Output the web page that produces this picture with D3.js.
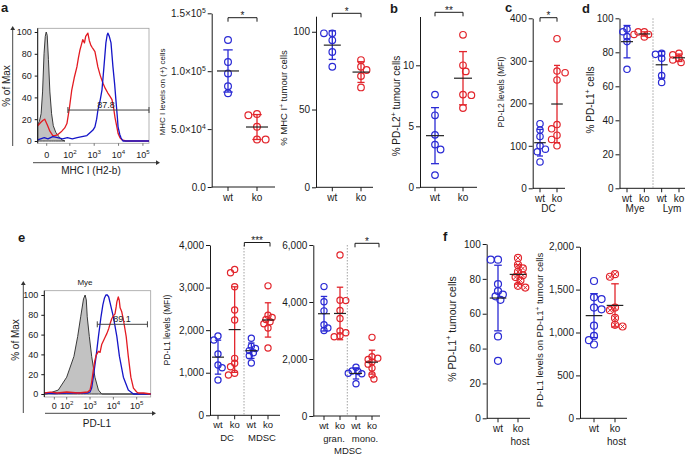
<!DOCTYPE html>
<html><head><meta charset="utf-8">
<script src="https://cdn.jsdelivr.net/npm/d3@7"></script>
<style>
body{margin:0;background:#fff;}
svg{font-family:"Liberation Sans",Arial,Helvetica,sans-serif;}
</style></head><body>
<svg id="chart" width="685" height="456"></svg>
<script>
// ================= DATA =================
// histogram x values are positions in decades of the biexponential display; y = % of Max
const histYTicks = [0, 20, 40, 60, 80, 100];
const aHistXTicks = [1.05, 2, 3, 4, 5];
const aHistXLabels = ["0", "10{2}", "10{3}", "10{4}", "10{5}"];
const aHistIsotype = [[0.68,15],[0.75,18],[0.82,25],[0.88,45],[0.94,80],[0.99,96],[1.03,100],[1.07,97],[1.12,75],[1.18,45],[1.25,25],[1.32,14],[1.42,8],[1.55,4],[1.67,1],[1.8,0]];
const aHistKo = [[0.68,14],[0.8,17],[0.9,19],[0.97,20],[1.03,17],[1.09,14],[1.18,9],[1.3,5],[1.4,5],[1.51,6],[1.67,9],[1.79,12],[1.88,16],[1.98,30],[2.08,47],[2.18,58],[2.29,68],[2.35,76],[2.41,83],[2.47,88],[2.53,93],[2.6,90],[2.65,96],[2.74,99],[2.8,92],[2.86,88],[2.91,86],[2.97,84],[3.03,82],[3.1,74],[3.15,68],[3.25,60],[3.36,53],[3.46,48],[3.56,44],[3.65,41],[3.73,38],[3.8,30],[3.85,22],[3.92,14],[3.98,7],[4.06,3],[4.14,1],[4.3,0],[5.25,0]];
const aHistWt = [[0.68,1],[0.8,2],[0.95,3],[1.1,2],[1.3,4],[1.5,3],[1.7,2],[1.9,3],[2.1,2],[2.3,3],[2.5,4],[2.7,5],[2.85,8],[2.95,10],[3.03,13],[3.1,20],[3.15,28],[3.25,38],[3.32,47],[3.4,68],[3.48,90],[3.53,97],[3.56,99],[3.62,96],[3.69,90],[3.77,68],[3.84,52],[3.89,38],[3.95,22],[3.98,13],[4.05,6],[4.1,3],[4.18,0],[5.25,0]];
const aGate = [1.92, 5.25, 28.4];
const aGateLabel = "87.8";

const eHistXTicks = [1.47, 2, 3, 4, 5];
const eHistXLabels = ["0", "10{2}", "10{3}", "10{4}", "10{5}"];
const eHistIsotype = [[1.04,0],[1.14,0],[1.64,4],[2.0,17],[2.31,38],[2.47,58],[2.6,78],[2.72,96],[2.79,100],[2.84,95],[2.88,78],[2.97,58],[3.07,38],[3.21,17],[3.36,4],[3.5,0],[5.6,0]];
const eHistWt = [[1.04,1],[1.5,0.5],[2.0,1],[2.5,1],[2.9,1],[3.0,2],[3.07,6],[3.14,17],[3.26,38],[3.36,58],[3.47,78],[3.55,90],[3.62,97],[3.68,100],[3.74,100],[3.8,98],[3.86,92],[3.93,85],[4.0,78],[4.15,58],[4.26,38],[4.43,17],[4.64,4],[4.86,0],[5.6,0]];
const eHistKo = [[1.04,1],[1.3,2],[1.6,1],[2.0,2],[2.5,1],[2.9,2],[3.0,4],[3.07,12],[3.14,24],[3.2,33],[3.26,39],[3.36,43],[3.43,42],[3.5,50],[3.6,55],[3.66,58],[3.72,61],[3.8,66],[3.86,71],[3.93,76],[4.0,79],[4.07,81],[4.12,88],[4.15,93],[4.21,98],[4.25,95],[4.29,87],[4.36,83],[4.43,75],[4.55,58],[4.64,38],[4.75,17],[4.86,6],[5.0,2],[5.07,1],[5.3,1],[5.6,0]];
const eGate = [3.31, 5.46, 70.4];
const eGateLabel = "89.1";

// dot plots
const groupLabels = ["wt", "ko"];
const a1Wt = [127000, 108000, 98000, 87000, 81000];
const a1Ko = [63000, 62000, 52000, 41000, 41000];
const a1Ticks = [0, 50000, 100000, 150000];
const a1TickLabels = ["0.0", "5.0×10{4}", "1.0×10{5}", "1.5×10{5}"];

const a2Wt = [99, 99, 94.5, 87, 77.5];
const a2Ko = [81.8, 77.5, 75.4, 71.5, 64.2];
const a2Ticks = [0, 50, 100];

const bWt = [7.6, 5.9, 4.3, 3.5, 3.1, 1.0];
const bKo = [12.5, 10.0, 9.5, 7.6, 7.55, 6.5];
const bTicks = [0, 5, 10];

const cWt = [152, 137, 122, 100, 92, 86, 62];
const cKo = [352, 276, 272, 255, 150, 140, 125, 115, 100];
const cTicks = [0, 100, 200, 300, 400];

const dMyeWt = [93.7, 92.1, 89.2, 86.3, 70];
const dMyeKo = [92, 92, 90.5, 90.5, 89];
const dLymWt = [79.4, 78.8, 76.5, 66.3, 62.3];
const dLymKo = [79.4, 78.5, 76.5, 75.5, 74];
const dTicks = [0, 20, 40, 60, 80, 100];

const e1DcWt = [1861, 1767, 1439, 1181, 1117, 829];
const e1DcKo = [3427, 3348, 3019, 2472, 2237, 1338, 1221, 1141, 986, 946];
const e1MdscWt = [1810, 1620, 1570, 1520, 1470, 1400, 1230];
const e1MdscKo = [3040, 2350, 2300, 2250, 2200, 2150, 2050, 1580];
const e1Ticks = [0, 1000, 2000, 3000, 4000];
const e1TickLabels = ["0", "1,000", "2,000", "3,000", "4,000"];

const e2GranWt = [4540, 4010, 3690, 3200, 3090, 3000];
const e2GranKo = [5650, 4060, 4050, 3700, 3420, 2980, 2920, 2820, 2780];
const e2MonoWt = [1710, 1580, 1560, 1500, 1480, 1130];
const e2MonoKo = [2760, 2080, 2030, 1980, 1900, 1820, 1680, 1450, 1300];
const e2Ticks = [0, 2000, 4000, 6000];
const e2TickLabels = ["0", "2,000", "4,000", "6,000"];

const f1Wt = [91, 91, 77, 73, 71, 70, 68, 47, 33];
const f1Ko = [92, 88, 86, 84, 82, 81, 79, 76, 75];
const f1Ticks = [0, 20, 40, 60, 80, 100];
const f1TickLabels = ["0", "20", "60", "60", "80", "100"];

const f2Wt = [1600, 1410, 1390, 1290, 1270, 1080, 960, 910, 860];
const f2Ko = [1680, 1650, 1290, 1260, 1170, 1090, 1070];
const f2Ticks = [0, 500, 1000, 1500, 2000];
const f2TickLabels = ["0", "500", "1,000", "1,500", "2,000"];

// ================= DRAWING =================
const svg = d3.select("#chart");
const BLUE = "#2a2ad4", RED = "#e2252c", INK = "#1a1a1a";
const HBLUE = "#1515c8", HRED = "#e31b22";

function rich(t, str, fs) {
  t.text(null);
  const parts = String(str).split(/(\{[^}]*\})/).filter(s => s.length);
  let up = false;
  parts.forEach(s => {
    if (s[0] === "{") {
      t.append("tspan").attr("font-size", fs * 0.68).attr("dy", -fs * 0.4).text(s.slice(1, -1));
      up = true;
    } else {
      const ts = t.append("tspan").text(s);
      if (up) { ts.attr("dy", fs * 0.4); up = false; }
    }
  });
}
function yTitle(x, y, str, fs) {
  const t = svg.append("text").attr("transform", `translate(${x},${y}) rotate(-90)`)
    .attr("text-anchor", "middle").attr("dy", "0.35em").attr("font-size", fs).attr("fill", INK);
  rich(t, str, fs);
}
function txt(x, y, str, fs, opts = {}) {
  const t = svg.append("text").attr("x", x).attr("y", y).attr("font-size", fs)
    .attr("text-anchor", opts.anchor || "middle").attr("fill", opts.fill || INK);
  if (opts.bold) t.attr("font-weight", "bold");
  rich(t, str, fs);
  return t;
}
function styleAxis(g, fs, labels) {
  g.attr("font-family", null).attr("font-size", null);
  g.selectAll("path,line").attr("stroke", INK).attr("stroke-width", 1);
  g.selectAll("text").attr("font-size", fs).attr("fill", INK).each(function(d, i) {
    if (labels) rich(d3.select(this), labels[i], fs);
  });
}
function arrowHead(x, y, dir) {
  const s = 3;
  let pts;
  if (dir === "up") pts = [[x, y - s], [x - s * 0.8, y + 1], [x + s * 0.8, y + 1]];
  else pts = [[x + s, y], [x - 1, y - s * 0.8], [x - 1, y + s * 0.8]];
  svg.append("path").attr("d", "M" + pts.map(p => p.join(",")).join("L") + "Z").attr("fill", "#333");
}

function histPanel(h) {
  const g = svg.append("g");
  const x = d3.scaleLinear().domain(h.xDomain).range(h.xRange);
  const y = d3.scaleLinear().domain([0, 100]).range(h.yRange);
  g.append("rect").attr("x", h.xRange[0]).attr("y", h.boxTop)
    .attr("width", h.xRange[1] - h.xRange[0]).attr("height", h.boxBottom - h.boxTop)
    .attr("fill", "none").attr("stroke", "#a0a0a0").attr("stroke-width", 0.8);
  const area = d3.area().x(d => x(d[0])).y0(y(0)).y1(d => y(d[1]));
  const line = d3.line().x(d => x(d[0])).y(d => y(d[1]));
  g.append("path").datum(h.iso).attr("d", area).attr("fill", "#c2c2c2")
    .attr("stroke", "#3a3a3a").attr("stroke-width", 1);
  h.curves.forEach(c => {
    g.append("path").datum(c.data).attr("d", line).attr("fill", "none")
      .attr("stroke", c.color).attr("stroke-width", 1.3).attr("stroke-linejoin", "round");
  });
  const gy = y(h.gate[2]);
  g.append("line").attr("x1", x(h.gate[0])).attr("x2", x(h.gate[1])).attr("y1", gy).attr("y2", gy)
    .attr("stroke", "#444").attr("stroke-width", 1);
  [h.gate[0], h.gate[1]].forEach(v => g.append("line").attr("x1", x(v)).attr("x2", x(v))
    .attr("y1", gy - 3).attr("y2", gy + 3).attr("stroke", "#444").attr("stroke-width", 1));
  txt(h.gateLabelX, gy - 2, h.gateLabel, 9);
  const ya = g.append("g").attr("transform", `translate(${h.xRange[0]},0)`)
    .call(d3.axisLeft(y).tickValues(histYTicks).tickSize(3).tickSizeOuter(0).tickPadding(3));
  styleAxis(ya, 9);
  ya.select(".domain").remove();
  g.append("line").attr("x1", h.xRange[0]).attr("x2", h.xRange[0]).attr("y1", h.boxTop).attr("y2", h.boxBottom)
    .attr("stroke", INK).attr("stroke-width", 1);
  h.xTicks.forEach((v, i) => {
    g.append("line").attr("x1", x(v)).attr("x2", x(v)).attr("y1", h.boxBottom).attr("y2", h.boxBottom + 2.5)
      .attr("stroke", "#555").attr("stroke-width", 0.8);
    txt(x(v), h.xLabelY, h.xLabels[i], 9);
  });
  svg.append("line").attr("x1", h.arrowX).attr("x2", h.arrowX).attr("y1", h.arrowY0).attr("y2", h.arrowY1)
    .attr("stroke", "#333").attr("stroke-width", 0.9);
  arrowHead(h.arrowX, h.arrowY1, "up");
  svg.append("line").attr("x1", h.arrowX0).attr("x2", h.arrowX1).attr("y1", h.arrowY).attr("y2", h.arrowY)
    .attr("stroke", "#333").attr("stroke-width", 0.9);
  arrowHead(h.arrowX1, h.arrowY, "right");
}

function swarm(values, y, sep) {
  const placed = [];
  const sorted = values.slice().sort((a, b) => b - a);
  return sorted.map((v, i) => {
    const py = y(v);
    const cands = [0];
    for (let k = 1; k < 12; k++) {
      const s = k * sep * 0.45;
      if (i % 2) cands.push(-s, s); else cands.push(s, -s);
    }
    let best = 0;
    for (const dx of cands) {
      if (placed.every(p => Math.hypot(p.dx - dx, p.py - py) >= sep)) { best = dx; break; }
    }
    placed.push({ dx: best, py });
    return { v, dx: best, py };
  });
}

function dotPanel(p) {
  const g = svg.append("g");
  const y = d3.scaleLinear().domain(p.domain).range(p.yRange);
  const x = d3.scalePoint().domain(p.series.map((s, i) => i)).range(p.xRange);
  const y0 = y(0);
  const fs = p.fs || 10;
  const ya = g.append("g").attr("transform", `translate(${p.ax},0)`)
    .call(d3.axisLeft(y).tickValues(p.ticks).tickSize(4).tickSizeOuter(0).tickPadding(2));
  styleAxis(ya, fs, p.tickLabels || p.ticks.map(String));
  g.append("line").attr("x1", p.ax).attr("x2", p.xEnd).attr("y1", y0).attr("y2", y0)
    .attr("stroke", INK).attr("stroke-width", 1);
  (p.seps || []).forEach(sx => g.append("line").attr("x1", sx).attr("x2", sx)
    .attr("y1", y.range()[1]).attr("y2", y0).attr("stroke", "#8a8a8a")
    .attr("stroke-width", 0.8).attr("stroke-dasharray", "1.5,1.5"));
  p.series.forEach((s, i) => {
    const cx = x(i);
    g.append("line").attr("x1", cx).attr("x2", cx).attr("y1", y0).attr("y2", y0 + 4)
      .attr("stroke", INK).attr("stroke-width", 1);
    txt(cx, y0 + (p.labelDy || 14), groupLabels[i % 2], p.labelFs || 10);
    const m = d3.mean(s.values), sd = d3.deviation(s.values);
    const col = s.color;
    g.append("line").attr("x1", cx).attr("x2", cx).attr("y1", y(m - sd)).attr("y2", y(m + sd))
      .attr("stroke", col).attr("stroke-width", 1.3);
    [m - sd, m + sd].forEach(v => g.append("line").attr("x1", cx - p.cap).attr("x2", cx + p.cap)
      .attr("y1", y(v)).attr("y2", y(v)).attr("stroke", col).attr("stroke-width", 1.3));
    const pts = swarm(s.values, y, p.sep);
    pts.forEach(pt => {
      g.append("circle").attr("cx", cx + pt.dx).attr("cy", pt.py).attr("r", p.r)
        .attr("fill", "none").attr("stroke", col).attr("stroke-width", 1.2);
      if (s.cross) {
        const k = p.r * 0.6;
        g.append("path").attr("d", `M${cx + pt.dx - k},${pt.py - k}L${cx + pt.dx + k},${pt.py + k}M${cx + pt.dx - k},${pt.py + k}L${cx + pt.dx + k},${pt.py - k}`)
          .attr("stroke", col).attr("stroke-width", 1);
      }
    });
    g.append("line").attr("x1", cx - p.mean).attr("x2", cx + p.mean).attr("y1", y(m)).attr("y2", y(m))
      .attr("stroke", "#222").attr("stroke-width", 1.2);
  });
  (p.brackets || []).forEach(b => {
    const xa = x(b.from) + (b.dl || 0), xb = x(b.to) + (b.dr || 0);
    g.append("path").attr("d", `M${xa},${b.y + 4}V${b.y}H${xb}V${b.y + 4}`)
      .attr("fill", "none").attr("stroke", INK).attr("stroke-width", 1);
    txt((xa + xb) / 2, b.y + 1.5, b.label, 10);
  });
  (p.groupTexts || []).forEach(t => txt(t.x, y0 + t.dy, t.text, p.labelFs || 10));
  return { x, y };
}

// ---------- panel a ----------
txt(1, 12, "a", 13, { anchor: "start", bold: true });
histPanel({
  xDomain: [0.68, 5.25], xRange: [37.7, 149], yRange: [141, 32],
  boxTop: 28.3, boxBottom: 143.3,
  iso: aHistIsotype,
  curves: [{ data: aHistKo, color: HRED }, { data: aHistWt, color: HBLUE }],
  gate: aGate, gateLabel: aGateLabel, gateLabelX: 106,
  xTicks: aHistXTicks, xLabels: aHistXLabels, xLabelY: 157.5,
  arrowX: 12.7, arrowY0: 146, arrowY1: 29, arrowX0: 33, arrowX1: 157, arrowY: 162.7
});
yTitle(6.5, 86, "% of Max", 10);
txt(91, 173.5, "MHC I (H2-b)", 10);

dotPanel({ ax: 211.7, domain: [0, 150000], yRange: [187, 13.3], xRange: [228, 257], xEnd: 275,
  ticks: a1Ticks, tickLabels: a1TickLabels, r: 3.4, sep: 6.4, cap: 4.7, mean: 11,
  series: [{ values: a1Wt, color: BLUE }, { values: a1Ko, color: RED }],
  brackets: [{ from: 0, to: 1, y: 17.7, label: "*" }] });
yTitle(162, 92, "MHC I levels on (+) cells", 8);

dotPanel({ ax: 316, domain: [0, 110], yRange: [187.3, 16.2], xRange: [332.3, 361], xEnd: 373,
  ticks: a2Ticks, r: 3.3, sep: 6.2, cap: 3.6, mean: 8.5,
  series: [{ values: a2Wt, color: BLUE }, { values: a2Ko, color: RED }],
  brackets: [{ from: 0, to: 1, y: 13.3, label: "*" }] });
yTitle(284, 98, "% MHC I{+} tumour cells", 9.5);

// ---------- panel b ----------
txt(390, 13, "b", 13, { anchor: "start", bold: true });
dotPanel({ ax: 420, domain: [0, 14], yRange: [187.3, 16.5], xRange: [435, 463], xEnd: 477,
  ticks: bTicks, r: 3.3, sep: 6.2, cap: 4, mean: 9,
  series: [{ values: bWt, color: BLUE }, { values: bKo, color: RED }],
  brackets: [{ from: 0, to: 1, y: 12.3, label: "**" }] });
yTitle(396, 106, "% PD-L2{+} tumour cells", 10);

// ---------- panel c ----------
txt(505, 11.5, "c", 13, { anchor: "start", bold: true });
dotPanel({ ax: 532.7, domain: [0, 400], yRange: [188.3, 18.3], xRange: [540, 557], xEnd: 565,
  ticks: cTicks, r: 3.2, sep: 6, cap: 3, mean: 5.8,
  series: [{ values: cWt, color: BLUE }, { values: cKo, color: RED }],
  brackets: [{ from: 0, to: 1, y: 17.7, label: "*" }],
  groupTexts: [{ x: 548.5, dy: 23.5, text: "DC" }] });
yTitle(501, 92, "PD-L2 levels (MFI)", 8.5);

// ---------- panel d ----------
txt(582, 13, "d", 13, { anchor: "start", bold: true });
dotPanel({ ax: 619.5, domain: [0, 100], yRange: [188.3, 18.3], xRange: [627, 679], xEnd: 685,
  ticks: dTicks, r: 3.2, sep: 4.6, cap: 3.5, mean: 6,
  series: [{ values: dMyeWt, color: BLUE }, { values: dMyeKo, color: RED },
           { values: dLymWt, color: BLUE }, { values: dLymKo, color: RED }],
  seps: [653],
  groupTexts: [{ x: 635, dy: 23.5, text: "Mye" }, { x: 672, dy: 23.5, text: "Lym" }] });
yTitle(590, 100, "% PD-L1{+} cells", 10);

// ---------- panel e ----------
txt(18, 242, "e", 13, { anchor: "start", bold: true });
histPanel({
  xDomain: [1.04, 5.6], xRange: [44.3, 150.7], yRange: [394, 295],
  boxTop: 290.7, boxBottom: 397,
  iso: eHistIsotype,
  curves: [{ data: eHistWt, color: HBLUE }, { data: eHistKo, color: HRED }],
  gate: eGate, gateLabel: eGateLabel, gateLabelX: 122,
  xTicks: eHistXTicks, xLabels: eHistXLabels, xLabelY: 408.5,
  arrowX: 23.3, arrowY0: 413, arrowY1: 284, arrowX0: 45, arrowX1: 153, arrowY: 413.3
});
txt(85, 284.5, "Mye", 8);
yTitle(15, 340, "% of Max", 10);
txt(97, 426.5, "PD-L1", 10);

dotPanel({ ax: 210, domain: [0, 4000], yRange: [415.3, 245], xRange: [218, 268], xEnd: 280,
  ticks: e1Ticks, tickLabels: e1TickLabels, r: 3.1, sep: 4.6, cap: 3.2, mean: 6,
  labelDy: 13, labelFs: 9.5,
  series: [{ values: e1DcWt, color: BLUE }, { values: e1DcKo, color: RED },
           { values: e1MdscWt, color: BLUE }, { values: e1MdscKo, color: RED }],
  seps: [244],
  brackets: [{ from: 2, to: 3, y: 242.5, label: "***", dl: -7, dr: 2 }],
  groupTexts: [{ x: 227, dy: 26, text: "DC" }, { x: 262, dy: 26, text: "MDSC" }] });
yTitle(167, 330, "PD-L1 levels (MFI)", 8.5);

dotPanel({ ax: 313.3, domain: [0, 6000], yRange: [416, 245], xRange: [324, 372], xEnd: 380,
  ticks: e2Ticks, tickLabels: e2TickLabels, r: 3.1, sep: 4.3, cap: 3.2, mean: 6,
  labelDy: 12.5, labelFs: 9.5,
  series: [{ values: e2GranWt, color: BLUE }, { values: e2GranKo, color: RED },
           { values: e2MonoWt, color: BLUE }, { values: e2MonoKo, color: RED }],
  seps: [347.3],
  brackets: [{ from: 2, to: 3, y: 243.3, label: "*", dl: -1, dr: 7 }],
  groupTexts: [{ x: 334, dy: 25.5, text: "gran." }, { x: 365, dy: 25.5, text: "mono." },
               { x: 348, dy: 37.5, text: "MDSC" }] });

// ---------- panel f ----------
txt(443, 241, "f", 13, { anchor: "start", bold: true });
dotPanel({ ax: 486.7, domain: [0, 100], yRange: [418.3, 244], xRange: [498, 518], xEnd: 530,
  ticks: f1Ticks, tickLabels: f1TickLabels, r: 3.5, sep: 5.4, cap: 3.8, mean: 8.3,
  series: [{ values: f1Wt, color: BLUE }, { values: f1Ko, color: RED, cross: true }],
  groupTexts: [{ x: 520, dy: 26.5, text: "host" }] });
yTitle(452, 329, "% PD-L1{+} tumour cells", 10.5);

dotPanel({ ax: 580, domain: [0, 2000], yRange: [418.3, 246.7], xRange: [594, 615], xEnd: 627,
  ticks: f2Ticks, tickLabels: f2TickLabels, r: 3.5, sep: 5.6, cap: 3.8, mean: 8.3,
  series: [{ values: f2Wt, color: BLUE }, { values: f2Ko, color: RED, cross: true }],
  groupTexts: [{ x: 616.5, dy: 26.5, text: "host" }] });
yTitle(540, 330, "PD-L1 levels on  PD-L1{+} tumour cells", 9.5);
</script>
</body></html>
